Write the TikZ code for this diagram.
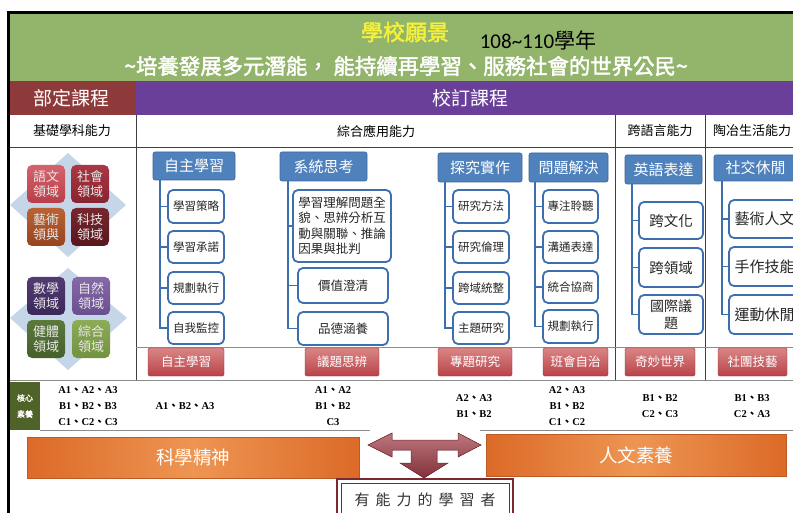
\documentclass[tikz,border=0pt]{standalone}
\usepackage{fontspec}
\setmainfont{Liberation Serif}
\newfontfamily\cjk{Noto Sans CJK TC}
\newfontfamily\cjkb{Noto Sans CJK TC}[FakeBold=2]
\newfontfamily\cali{Carlito}
\newcommand\fsz[2]{\fontsize{#1}{#2}\selectfont}
\newcommand\dun{{\cjk 、}}
\definecolor{grn}{HTML}{93B46B}
\definecolor{ttl}{HTML}{F4F03C}
\definecolor{hred}{HTML}{8E3A3B}
\definecolor{purp}{HTML}{6A3F99}
\definecolor{hblue}{HTML}{4F81BD}
\definecolor{kblue}{HTML}{3D6FAE}
\definecolor{btop}{HTML}{DA8585}
\definecolor{bbot}{HTML}{B8434A}
\definecolor{or1}{HTML}{DC6A28}
\definecolor{or2}{HTML}{EE9552}
\definecolor{dia}{HTML}{C6D6E9}
\definecolor{cgrn}{HTML}{4F6228}
\definecolor{arr}{HTML}{A23C47}
\definecolor{boxr}{HTML}{7A2A2E}
\definecolor{s1t}{HTML}{D6636C}\definecolor{s1b}{HTML}{B83E48}
\definecolor{s2t}{HTML}{A83844}\definecolor{s2b}{HTML}{88242F}
\definecolor{s3t}{HTML}{BA6232}\definecolor{s3b}{HTML}{984420}
\definecolor{s4t}{HTML}{78262E}\definecolor{s4b}{HTML}{58171E}
\definecolor{s5t}{HTML}{523C72}\definecolor{s5b}{HTML}{3C2958}
\definecolor{s6t}{HTML}{8569A8}\definecolor{s6b}{HTML}{6A4F90}
\definecolor{s7t}{HTML}{5A7A3A}\definecolor{s7b}{HTML}{45602A}
\definecolor{s8t}{HTML}{8DAC58}\definecolor{s8b}{HTML}{72923F}
\begin{document}
\begin{tikzpicture}[x=1pt,y=-1pt,
  hdr/.style={draw=hblue!80!black, fill=hblue, rounded corners=2pt, text=white,
    font=\cjk\fsz{15}{15}, line width=0.6pt, inner sep=0pt},
  kid/.style={draw=kblue, line width=1.8pt, fill=white, rounded corners=5pt,
    font=\cjk\fsz{11.5}{14}, text=black!85, inner sep=1pt, align=center},
  conn/.style={draw=kblue, line width=1.8pt},
  btn/.style={rounded corners=1.5pt, top color=btop, bottom color=bbot, draw=bbot!80!black,
    text=white, font=\cjk\fsz{12.5}{13}, minimum height=28pt, inner sep=0pt},
  sq/.style={rounded corners=5pt, minimum width=38pt, minimum height=38pt,
    text=white!82!gray, font=\cjk\fsz{13}{14.5}, align=center, inner sep=0pt},
  gridln/.style={draw=black!75, line width=1pt},
  thinln/.style={draw=black!45, line width=0.8pt},
  core/.style={font=\bfseries\fsz{10.5}{16}, align=center, inner sep=0pt},
  bar/.style={left color=or1, right color=or1, middle color=or2, draw=or1!85!black,
    line width=0.4pt, text=white, font=\cjk\fsz{18.5}{19}, inner sep=0pt}
]
\useasboundingbox (0,0) rectangle (793,513);
\fill[white] (0,0) rectangle (793,513);
% header bands
\fill[grn] (8,13) rectangle (793,81);
\fill[hred] (8,81) rectangle (136,115);
\fill[purp] (136,81) rectangle (793,115);
% grid lines
\draw[gridln] (8,148) -- (793,148);
\draw[gridln] (136,115) -- (136,380);
\draw[gridln] (615,115) -- (615,380);
\draw[gridln] (705,115) -- (705,380);
\draw[thinln] (136,347) -- (793,347);
\draw[thinln] (8,380) -- (793,380);
\draw[thinln] (40,430) -- (370,430);
\draw[thinln] (480,430) -- (793,430);
% outer frame
\draw[line width=3pt] (8,13) -- (793,13);
\draw[line width=2.5pt] (8.5,11.5) -- (8.5,513);

% titles
\node[font=\cjkb\fsz{22}{22}, text=ttl] (title) at (405,32) {學校願景};
\node[font=\fsz{21}{21}, text=black, inner sep=0pt] (years) at (538,40) {{\cali 108\textasciitilde110}{\cjk 學年}};
\node[font=\cjkb\fsz{21.4}{22}, text=white] (motto) at (406,66) {\textasciitilde 培養發展多元潛能，\ 能持續再學習、服務社會的世界公民\textasciitilde};
\node[font=\cjk\fsz{19}{19}, text=white] (bd) at (72,98) {部定課程};
\node[font=\cjk\fsz{19}{19}, text=white] (xd) at (470,98) {校訂課程};
\node[font=\cjk\fsz{13}{13}] (c1) at (72,131) {基礎學科能力};
\node[font=\cjk\fsz{13}{13}] (c2) at (376,131) {綜合應用能力};
\node[font=\cjk\fsz{13}{13}] (c3) at (660,131) {跨語言能力};
\node[font=\cjk\fsz{13}{13}] (c4) at (752,131) {陶冶生活能力};

% left clusters
\fill[dia] (68,153) -- (126,205) -- (68,257) -- (10,205) -- cycle;
\fill[dia] (68,268) -- (127,318) -- (68,370) -- (10,318) -- cycle;
\node[sq, top color=s1t, bottom color=s1b] (s1) at (46,184) {語文\\領域};
\node[sq, top color=s2t, bottom color=s2b] (s2) at (90,184) {社會\\領域};
\node[sq, top color=s3t, bottom color=s3b] (s3) at (46,227) {藝術\\領與};
\node[sq, top color=s4t, bottom color=s4b] (s4) at (90,227) {科技\\領域};
\node[sq, top color=s5t, bottom color=s5b] (s5) at (46,296) {數學\\領域};
\node[sq, top color=s6t, bottom color=s6b] (s6) at (91,296) {自然\\領域};
\node[sq, top color=s7t, bottom color=s7b] (s7) at (46,339) {健體\\領域};
\node[sq, top color=s8t, bottom color=s8b] (s8) at (91,339) {綜合\\領域};

% group A
\node[hdr, minimum width=82pt, minimum height=28pt] (hA) at (194,166) {自主學習};
\node[kid, minimum width=56pt, minimum height=33pt] (a1) at (196,206.5) {學習策略};
\node[kid, minimum width=56pt, minimum height=32pt] (a2) at (196,247) {學習承諾};
\node[kid, minimum width=56pt, minimum height=32pt] (a3) at (196,288) {規劃執行};
\node[kid, minimum width=56pt, minimum height=32pt] (a4) at (196,328) {自我監控};
\coordinate (vA) at (160,180);
\draw[conn] (vA) |- (a4.west);
\foreach \i in {1,2,3} \draw[conn] (vA |- a\i.west) -- (a\i.west);

% group B
\node[hdr, minimum width=87pt, minimum height=29pt] (hB) at (323.5,166.5) {系統思考};
\node[kid, minimum width=98pt, minimum height=72pt, align=left, font=\cjk\fsz{12.5}{15.5}] (b1) at (342,226) {學習理解問題全\\貌、思辨分析互\\動與關聯、推論\\因果與批判};
\node[kid, minimum width=90pt, minimum height=35pt, font=\cjk\fsz{12.5}{14}] (b2) at (343,285.5) {價值澄清};
\node[kid, minimum width=90pt, minimum height=33pt, font=\cjk\fsz{12.5}{14}] (b3) at (343,328.5) {品德涵養};
\coordinate (vB) at (288,181);
\draw[conn] (vB) |- (b3.west);
\foreach \i in {1,2} \draw[conn] (vB |- b\i.west) -- (b\i.west);

% group C
\node[hdr, minimum width=84pt, minimum height=29pt] (hC) at (480,167.5) {探究實作};
\node[kid, minimum width=56pt, minimum height=33pt] (k1) at (481,206.5) {研究方法};
\node[kid, minimum width=56pt, minimum height=32pt] (k2) at (481,247) {研究倫理};
\node[kid, minimum width=56pt, minimum height=32pt] (k3) at (481,288) {跨域統整};
\node[kid, minimum width=56pt, minimum height=32pt] (k4) at (481,328) {主題研究};
\coordinate (vC) at (445,182);
\draw[conn] (vC) |- (k4.west);
\foreach \i in {1,2,3} \draw[conn] (vC |- k\i.west) -- (k\i.west);

% group D
\node[hdr, minimum width=79pt, minimum height=29pt] (hD) at (568.5,167.5) {問題解決};
\node[kid, minimum width=55pt, minimum height=33pt] (d1) at (570.5,206.5) {專注聆聽};
\node[kid, minimum width=55pt, minimum height=32pt] (d2) at (570.5,247) {溝通表達};
\node[kid, minimum width=55pt, minimum height=32pt] (d3) at (570.5,287) {統合協商};
\node[kid, minimum width=55pt, minimum height=33pt] (d4) at (570.5,326.5) {規劃執行};
\coordinate (vD) at (535,182);
\draw[conn] (vD) |- (d4.west);
\foreach \i in {1,2,3} \draw[conn] (vD |- d\i.west) -- (d\i.west);

% group E
\node[hdr, minimum width=77pt, minimum height=29pt] (hE) at (663.5,169.5) {英語表達};
\node[kid, minimum width=64pt, minimum height=37pt, font=\cjk\fsz{14.5}{17}] (e1) at (671,220.5) {跨文化};
\node[kid, minimum width=64pt, minimum height=39pt, font=\cjk\fsz{14.5}{17}] (e2) at (671,267.5) {跨領域};
\node[kid, minimum width=64pt, minimum height=39pt, font=\cjk\fsz{14}{16.5}] (e3) at (671,314.5) {國際議\\題};
\coordinate (vE) at (632,184);
\draw[conn] (vE) |- (e3.west);
\foreach \i in {1,2} \draw[conn] (vE |- e\i.west) -- (e\i.west);

% group F
\node[hdr, minimum width=83pt, minimum height=26pt] (hF) at (755.5,168) {社交休閒};
\node[kid, minimum width=71pt, minimum height=38pt, font=\cjk\fsz{15}{17}] (f1) at (764.5,219) {藝術人文};
\node[kid, minimum width=71pt, minimum height=39pt, font=\cjk\fsz{15}{17}] (f2) at (764.5,266.5) {手作技能};
\node[kid, minimum width=71pt, minimum height=39pt, font=\cjk\fsz{15}{17}] (f3) at (764.5,314.5) {運動休閒};
\coordinate (vF) at (722,181);
\draw[conn] (vF) |- (f3.west);
\foreach \i in {1,2} \draw[conn] (vF |- f\i.west) -- (f\i.west);

% red buttons
\node[btn, minimum width=76pt] (rA) at (186,362) {自主學習};
\node[btn, minimum width=74pt] (rB) at (342,362) {議題思辨};
\node[btn, minimum width=74pt] (rC) at (475,362) {專題研究};
\node[btn, minimum width=65pt] (rD) at (575.5,362) {班會自治};
\node[btn, minimum width=70pt] (rE) at (660,362) {奇妙世界};
\node[btn, minimum width=69pt] (rF) at (752.5,362) {社團技藝};

% core competencies
\node[fill=cgrn, minimum width=30pt, minimum height=48pt, inner sep=0pt, text=white,
  font=\cjkb\fsz{8}{16}, align=center] (cl) at (25,406) {核心\\素養};
\node[core] (q1) at (88,406) {A1\dun A2\dun A3\\B1\dun B2\dun B3\\C1\dun C2\dun C3};
\node[core] (q2) at (185,406) {A1\dun B2\dun A3};
\node[core] (q3) at (333,406) {A1\dun A2\\B1\dun B2\\C3};
\node[core] (q4) at (474,406) {A2\dun A3\\B1\dun B2};
\node[core] (q5) at (567,406) {A2\dun A3\\B1\dun B2\\C1\dun C2};
\node[core] (q6) at (660,406) {B1\dun B2\\C2\dun C3};
\node[core] (q7) at (752,406) {B1\dun B3\\C2\dun A3};

% orange bars
\node[bar, minimum width=332pt, minimum height=41pt] (sci) at (193,457.5) {科學精神};
\node[bar, minimum width=300pt, minimum height=42pt] (hum) at (636,455) {人文素養};

% three-way arrow
\filldraw[top color=arr!70!white, bottom color=arr!80!black, draw=arr!70!black, line width=0.5pt]
 (368,445) -- (392,433) -- (392,440) -- (458,440) -- (458,433) -- (481,445) -- (458,457)
 -- (458,450) -- (437,450) -- (437,463) -- (448,463) -- (424,478) -- (400,463) -- (411,463)
 -- (411,450) -- (392,450) -- (392,457) -- cycle;

% bottom box
\draw[boxr, line width=2pt, fill=white] (337,479) rectangle (513,530);
\draw[boxr, line width=0.8pt] (341,483) rectangle (509,530);
\node[font=\cjk\fsz{15}{15}, text=black!80] (learner) at (425,500)
  {有\hspace{6pt}能\hspace{6pt}力\hspace{6pt}的\hspace{6pt}學\hspace{6pt}習\hspace{6pt}者};
\end{tikzpicture}
\end{document}
